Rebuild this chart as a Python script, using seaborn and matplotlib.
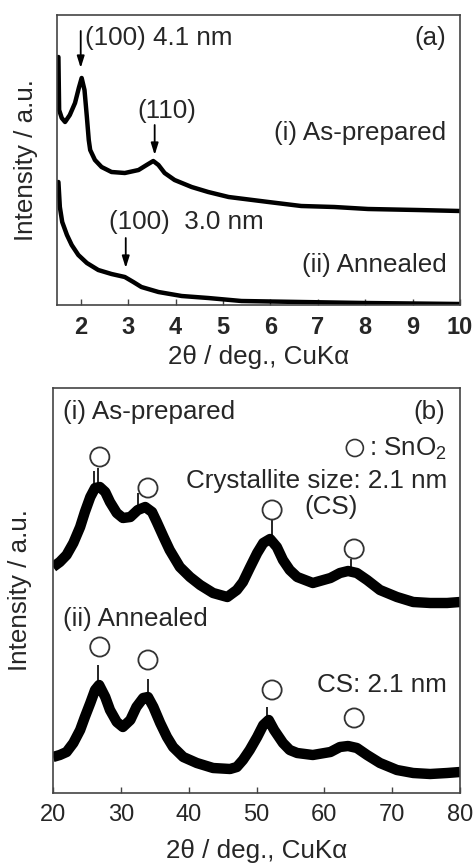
import matplotlib
matplotlib.use("Agg")
import matplotlib.pyplot as plt
import seaborn as sns
import pandas as pd

# ---------------- data: panel (a) small-angle XRD ----------------
a_x_asprep = [1.53, 1.545, 1.60, 1.67, 1.77, 1.88, 1.96, 2.02, 2.08, 2.13, 2.17, 2.20, 2.30,
              2.44, 2.65, 2.93, 3.22, 3.39, 3.53, 3.64, 3.77, 3.98, 4.34, 4.69, 5.12, 5.96,
              6.65, 7.35, 8.06, 9.1, 10.0]
a_y_asprep = [248, 195, 187, 183, 190, 202, 217, 227, 215, 188, 165, 155, 145,
              138, 133, 132, 135, 140, 144, 140, 132, 125, 118, 113, 108, 103,
              99, 98, 96, 95, 94]

a_x_anneal = [1.53, 1.56, 1.61, 1.71, 1.81, 1.95, 2.13, 2.37, 2.65, 2.93, 3.11, 3.28, 3.64,
              4.13, 4.69, 5.39, 6.65, 8.0, 10.0]
a_y_anneal = [123, 98, 83, 70, 60, 50, 42, 35, 31, 28, 23, 18, 13,
              9, 7, 4, 3, 2, 1]

a_xticks = [2, 3, 4, 5, 6, 7, 8, 9, 10]

# ---------------- data: panel (b) wide-angle XRD ----------------
b_x_asprep = [20.0, 21.0, 22.0, 23.0, 24.0, 24.7, 25.5, 26.2, 26.9, 27.7, 28.4, 29.4, 30.3,
              31.4, 32.5, 33.6, 34.6, 35.3, 36.3, 37.2, 38.7, 40.2, 41.7, 43.6, 45.7, 47.1,
              48.0, 49.0, 50.1, 51.0, 52.0, 53.0, 53.9, 54.9, 56.0, 58.3, 60.9, 62.3, 63.5,
              64.8, 66.3, 68.2, 70.7, 73.1, 75.6, 78.1, 80.0]
b_y_asprep = [226, 231, 238, 250, 266, 281, 296, 305, 306, 301, 291, 280, 275,
              276, 283, 286, 281, 271, 256, 243, 226, 216, 208, 200, 196, 203,
              211, 225, 240, 250, 254, 246, 233, 223, 216, 210, 215, 220, 222,
              220, 213, 203, 196, 191, 190, 190, 191]

b_x_anneal = [20.0, 21.0, 22.0, 23.0, 24.0, 24.7, 25.5, 26.2, 26.8, 27.7, 28.4, 29.4, 30.3,
              31.4, 32.3, 33.3, 34.0, 34.8, 35.8, 36.8, 37.7, 39.2, 41.2, 43.6, 46.1, 47.1,
              48.0, 49.0, 50.1, 51.0, 51.8, 52.6, 53.9, 54.9, 56.0, 58.3, 60.9, 62.3, 63.5,
              64.8, 66.3, 68.2, 70.7, 73.1, 75.6, 78.1, 80.0]
b_y_anneal = [36, 38, 41, 50, 63, 76, 90, 103, 108, 96, 83, 71, 66,
              73, 86, 95, 96, 86, 70, 56, 46, 36, 30, 25, 24, 26,
              33, 43, 56, 68, 73, 63, 50, 43, 40, 38, 41, 46, 47,
              45, 38, 30, 23, 20, 19, 20, 21]

# noise spikes visible above peak tops
b_spike_x_asprep = [26.0, 26.6, 32.5, 52.3, 63.9]
b_spike_lo_asprep = [305, 308, 282, 255, 224]
b_spike_hi_asprep = [322, 325, 300, 273, 234]
b_spike_x_anneal = [26.6, 34.0, 51.5]
b_spike_lo_anneal = [110, 100, 75]
b_spike_hi_anneal = [128, 114, 86]

# SnO2 peak markers
b_circ_x = [26.9, 34.0, 52.3, 64.4]
b_circ_y_asprep = [336, 305, 283, 244]
b_circ_y_anneal = [146, 133, 103, 75]

b_xticks = [20, 30, 40, 50, 60, 70, 80]

# ---------------- style ----------------
sns.set_style("ticks")
plt.rcParams["font.family"] = ["Liberation Sans", "DejaVu Sans"]
plt.rcParams["mathtext.fontset"] = "custom"
plt.rcParams["mathtext.rm"] = "Liberation Sans"
TXT = 18.7
TICK = 17
SPINE = "#444444"

fig = plt.figure(figsize=(4.75, 8.63), dpi=100)
axA = fig.add_axes([57 / 475, 1 - 305 / 863, 403 / 475, 290 / 863])
axB = fig.add_axes([53 / 475, 1 - 793 / 863, 407 / 475, 405 / 863])

# ---------------- panel (a) ----------------
dfa1 = pd.DataFrame({"x": a_x_asprep, "y": a_y_asprep})
dfa2 = pd.DataFrame({"x": a_x_anneal, "y": a_y_anneal})
for d in (dfa1, dfa2):
    sns.lineplot(data=d, x="x", y="y", ax=axA, color="black", lw=3.2, estimator=None,
                 sort=False, solid_joinstyle="round")
axA.set_xlim(1.5, 10)
axA.set_ylim(0, 290)
axA.set_xticks(a_xticks)
axA.set_xticklabels([str(t) for t in a_xticks], fontweight="bold")
axA.set_yticks([])
axA.tick_params(axis="x", direction="in", length=4, width=1.0, color=SPINE,
                labelsize=TICK, pad=8, top=False)
axA.set_xlabel("2θ / deg., CuKα", fontsize=TXT, labelpad=4)
axA.set_ylabel("Intensity / a.u.", fontsize=TXT, labelpad=14)

arrow_kw = dict(arrowstyle="-|>,head_width=0.22,head_length=0.7", color="black", lw=1.3,
                shrinkA=0, shrinkB=0)
axA.annotate("", xy=(2.0, 237), xytext=(2.0, 274), arrowprops=arrow_kw)
axA.annotate("", xy=(3.56, 150), xytext=(3.56, 180), arrowprops=arrow_kw)
axA.annotate("", xy=(2.95, 37), xytext=(2.95, 67), arrowprops=arrow_kw)
axA.text(2.1, 267, "(100) 4.1 nm", fontsize=TXT, ha="left", va="center")
axA.text(9.71, 267, "(a)", fontsize=TXT, ha="right", va="center")
axA.text(3.81, 194, "(110)", fontsize=TXT, ha="center", va="center")
axA.text(9.71, 172, "(i) As-prepared", fontsize=TXT, ha="right", va="center")
axA.text(2.59, 83, "(100)  3.0 nm", fontsize=TXT, ha="left", va="center")
axA.text(9.71, 40, "(ii) Annealed", fontsize=TXT, ha="right", va="center")

# ---------------- panel (b) ----------------
dfb1 = pd.DataFrame({"x": b_x_asprep, "y": b_y_asprep})
dfb2 = pd.DataFrame({"x": b_x_anneal, "y": b_y_anneal})
for d in (dfb1, dfb2):
    sns.lineplot(data=d, x="x", y="y", ax=axB, color="black", lw=7.5, estimator=None,
                 sort=False, solid_joinstyle="round", solid_capstyle="butt")
axB.vlines(b_spike_x_asprep, b_spike_lo_asprep, b_spike_hi_asprep, color="black", lw=1.2)
axB.vlines(b_spike_x_anneal, b_spike_lo_anneal, b_spike_hi_anneal, color="black", lw=1.2)

dfc1 = pd.DataFrame({"x": b_circ_x, "y": b_circ_y_asprep})
dfc2 = pd.DataFrame({"x": b_circ_x, "y": b_circ_y_anneal})
for d in (dfc1, dfc2):
    sns.scatterplot(data=d, x="x", y="y", ax=axB, marker="o", s=190,
                    facecolors="none", edgecolor="#333333", linewidth=1.3, zorder=5)

axB.set_xlim(20, 80)
axB.set_ylim(0, 405)
axB.set_xticks(b_xticks)
axB.set_xticklabels([str(t) for t in b_xticks])
axB.set_yticks([])
axB.tick_params(axis="x", direction="in", length=4, width=1.0, color=SPINE,
                labelsize=TICK, pad=8, top=False)
axB.set_xlabel("2θ / deg., CuKα", fontsize=TXT, labelpad=9)
axB.set_ylabel("Intensity / a.u.", fontsize=TXT, labelpad=15)

axB.text(21.5, 381, "(i) As-prepared", fontsize=TXT, ha="left", va="center")
axB.text(77.8, 381, "(b)", fontsize=TXT, ha="right", va="center")
sns.scatterplot(x=[64.5], y=[345], ax=axB, marker="o", s=150, facecolors="none",
                edgecolor="#333333", linewidth=1.2, zorder=5)
axB.text(78.1, 344, ": SnO$_2$", fontsize=TXT, ha="right", va="center")
axB.text(78.1, 312, "Crystallite size: 2.1 nm", fontsize=TXT, ha="right", va="center")
axB.text(61.0, 286, "(CS)", fontsize=TXT, ha="center", va="center")
axB.text(21.5, 174, "(ii) Annealed", fontsize=TXT, ha="left", va="center")
axB.text(78.1, 108, "CS: 2.1 nm", fontsize=TXT, ha="right", va="center")

for ax in (axA, axB):
    for sp in ax.spines.values():
        sp.set_color(SPINE)
        sp.set_linewidth(1.2)
        sp.set_visible(True)

fig.savefig("out.png", dpi=100)
